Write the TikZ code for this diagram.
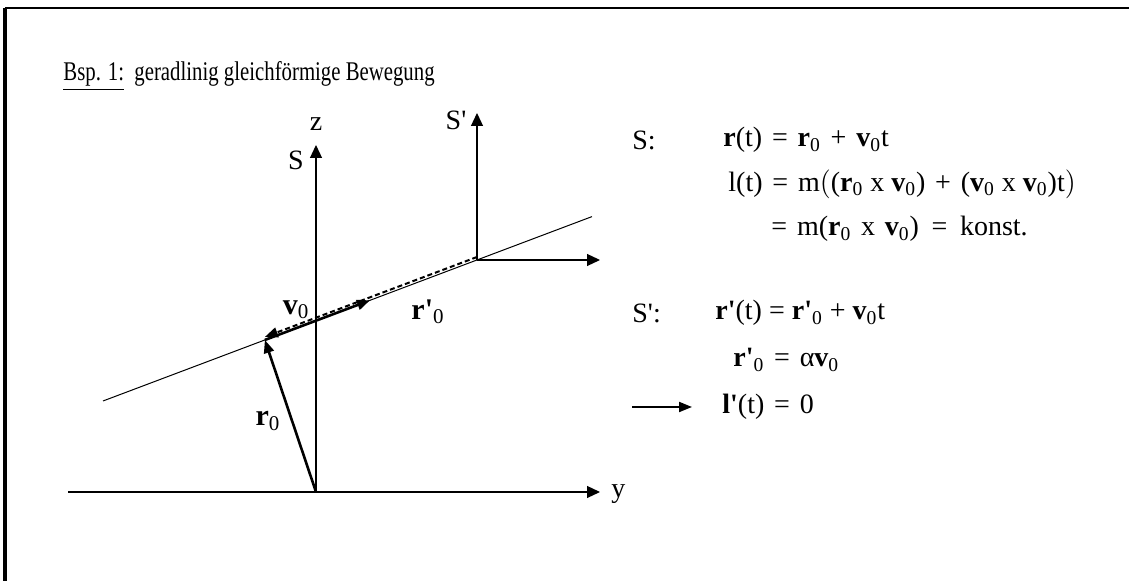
\documentclass[tikz,border=0pt]{standalone}
\usepackage{fontspec}
\setmainfont{Liberation Serif}[Ligatures=TeXOff]
\newfontfamily\titlefont{Liberation Serif}[Ligatures=TeXOff, FakeStretch=0.77]
\usetikzlibrary{arrows.meta,calc}
\newcommand{\vb}[1]{\textbf{#1}}
\newcommand{\nul}{\textsubscript{0}}
\newcommand{\ws}{\hspace{0.35em}}

\begin{document}
\begin{tikzpicture}[
  x=0.5pt, y=-0.5pt,
  txt/.style={font=\fontsize{14}{16}\selectfont, inner sep=0pt},
  eq/.style={txt, anchor=west},
  vlbl/.style={txt, font=\fontsize{15}{17}\selectfont},
  axis/.style={line width=0.6pt, -{Triangle[length=6.5pt,width=6pt]}},
  vec/.style={line width=1.3pt, -{Triangle[length=6.5pt,width=5pt]}},
  traj/.style={line width=0.5pt}
]
\useasboundingbox (0,0) rectangle (1129,581);
\draw[line width=1.2pt] (1129,8) -- (5,8);
\draw[line width=1.6pt] (5,8) -- (5,581);

\node[eq, font=\titlefont\fontsize{13.5}{15}\selectfont] (title) at (63,76) {\underline{Bsp. 1:}\ \ geradlinig gleichförmige Bewegung};

% system S
\coordinate (O) at (316,492);
\coordinate (ystart) at (68,492);
\coordinate (yend) at (600,492);
\coordinate (zend) at (316,145);
\draw[axis] (ystart) -- (yend);
\draw[axis] (O) -- (zend);
\node[txt] (zlab) at (316,124) {z};
\node[txt] (slab) at (296,160) {S};
\node[eq] (ylab) at (611,494) {y};

% system S'
\coordinate (Os) at (477,260);
\coordinate (zsend) at (477,113);
\coordinate (ysend) at (600,260);
\draw[axis] (Os) -- (zsend);
\draw[axis] (Os) -- (ysend);
\node[txt] (sslab) at (456,120) {S'};

% trajectory
\coordinate (tA) at (103,401);
\coordinate (tB) at (592,216.6);
\coordinate (P) at ($(tA)!0.331!(tB)$);
\coordinate (Q) at ($(tA)!0.546!(tB)$);
\draw[traj] (tA) -- (tB);
\draw[vec] (O) -- (P);
\draw[vec] (P) -- (Q);
\draw[vec, line width=1pt, dash pattern=on 2.5pt off 1.5pt] ([yshift=1.5pt]Os) -- ([yshift=1.5pt]P);
\node[vlbl] (vlab) at (296,310) {\vb{v}\nul};
\node[vlbl] (rslab) at (428,312) {\vb{r'}\nul};
\node[vlbl] (rlab) at (268,421) {\vb{r}\nul};

% equations
\node[eq] (sa) at (632,140) {S:};
\node[eq] (eqa) at (723,140) {\vb{r}(t)\ws=\ws\vb{r}\nul\ws+\ws\vb{v}\nul t};
\node[eq] (eqb) at (728,184) {l(t)\ws=\ws m$\bigl($(\vb{r}\nul{} x \vb{v}\nul)\ws+\ws(\vb{v}\nul{} x \vb{v}\nul)t$\bigr)$};
\node[eq] (eqc) at (771,229) {=\ws m(\vb{r}\nul\ws x\ws\vb{v}\nul)\hspace{0.45em}=\hspace{0.45em}konst.};
\node[eq] (sb) at (632,313) {S':};
\node[eq] (eqd) at (715,313) {\vb{r'}(t) = \vb{r'}\nul{} + \vb{v}\nul t};
\node[eq] (eqe) at (733,360) {\vb{r'}\nul\ws=\ws α\vb{v}\nul};
\coordinate (arrs) at (632,407);
\node[eq] (eqf) at (722,407) {\vb{l'}(t)\ws=\ws 0};
\draw[vec, line width=1pt] (arrs) -- ([xshift=-15pt]eqf.west);
\end{tikzpicture}
\end{document}
